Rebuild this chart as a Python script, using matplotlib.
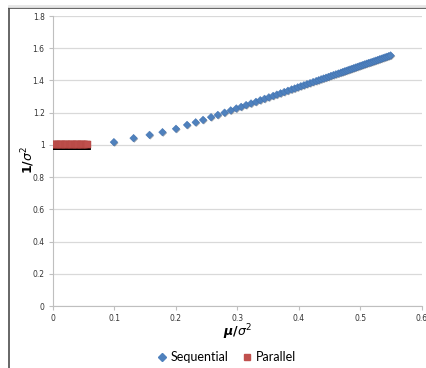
import matplotlib
matplotlib.use("Agg")
import matplotlib.pyplot as plt
import matplotlib.patheffects as pe
from matplotlib.lines import Line2D

# Sequential series (mu/sigma^2, 1/sigma^2)
seq_x = [0.099, 0.131, 0.157, 0.178, 0.200, 0.218, 0.232, 0.244, 0.257, 0.268,
         0.279, 0.289, 0.298, 0.306, 0.314, 0.322, 0.330, 0.337, 0.344, 0.351,
         0.358, 0.364, 0.370, 0.376, 0.382, 0.388, 0.393, 0.398, 0.403, 0.408,
         0.413, 0.418, 0.423, 0.428, 0.432, 0.436, 0.440, 0.444, 0.448, 0.452,
         0.456, 0.460, 0.464, 0.468, 0.471, 0.474, 0.477, 0.480, 0.483, 0.486,
         0.489, 0.492, 0.495, 0.498, 0.501, 0.504, 0.507, 0.510, 0.513, 0.516,
         0.519, 0.522, 0.525, 0.528, 0.531, 0.534, 0.537, 0.540, 0.543, 0.546,
         0.549]
seq_y = [1.017, 1.042, 1.062, 1.079, 1.100, 1.124, 1.140, 1.155, 1.172, 1.186,
         1.200, 1.214, 1.226, 1.236, 1.247, 1.257, 1.267, 1.277, 1.286, 1.295,
         1.304, 1.312, 1.320, 1.328, 1.336, 1.344, 1.350, 1.357, 1.364, 1.370,
         1.377, 1.383, 1.390, 1.396, 1.401, 1.407, 1.412, 1.417, 1.422, 1.428,
         1.433, 1.438, 1.443, 1.448, 1.452, 1.456, 1.460, 1.464, 1.468, 1.472,
         1.476, 1.480, 1.484, 1.488, 1.492, 1.496, 1.500, 1.504, 1.508, 1.511,
         1.515, 1.519, 1.523, 1.527, 1.531, 1.535, 1.539, 1.543, 1.547, 1.551,
         1.555]

# Parallel series
par_x = [0.000, 0.002, 0.004, 0.006, 0.008, 0.010, 0.012, 0.014, 0.016, 0.018,
         0.020, 0.022, 0.024, 0.026, 0.028, 0.030, 0.032, 0.034, 0.036, 0.038,
         0.040, 0.042, 0.044, 0.046, 0.048, 0.050, 0.052, 0.054, 0.056]
par_y = [1.000, 1.000, 1.000, 1.000, 1.000, 1.000, 1.000, 1.000, 1.000, 1.000,
         1.000, 1.000, 1.000, 1.000, 1.000, 1.000, 1.000, 1.000, 1.000, 1.000,
         1.000, 1.000, 1.000, 1.000, 1.000, 1.000, 1.000, 1.000, 1.000]

x_ticks = [0, 0.1, 0.2, 0.3, 0.4, 0.5, 0.6]
x_labels = ["0", "0.1", "0.2", "0.3", "0.4", "0.5", "0.6"]
y_ticks = [0, 0.2, 0.4, 0.6, 0.8, 1.0, 1.2, 1.4, 1.6, 1.8]
y_labels = ["0", "0.2", "0.4", "0.6", "0.8", "1", "1.2", "1.4", "1.6", "1.8"]

W, H = 427, 368
fig = plt.figure(figsize=(W / 100, H / 100), dpi=100)
fig.patch.set_facecolor("white")

# chart frame: only the left and top edges are visible in the screenshot
fx, fy = 9 / W, 1 - 8 / H
fig.add_artist(Line2D([fx, fx], [0, fy], transform=fig.transFigure, color="#4d4d4d", lw=1.2))
fig.add_artist(Line2D([fx, 1], [fy, fy], transform=fig.transFigure, color="#4d4d4d", lw=1.2))
fig.add_artist(Line2D([fx, 1], [fy + 2 / H, fy + 2 / H], transform=fig.transFigure,
                      color="#e6e6e6", lw=2))

ax = fig.add_axes([53 / W, 1 - 306 / H, (422 - 53) / W, (306 - 16) / H])
ax.set_xlim(0, 0.6)
ax.set_ylim(0, 1.8)

shadow = [pe.SimplePatchShadow(offset=(0.6, -0.6), alpha=0.4), pe.Normal()]
ax.scatter(seq_x, seq_y, marker="D", s=15, color="#4f81bd", edgecolors="#3d6fb0",
           linewidths=0.3, zorder=3, path_effects=shadow, label="Sequential")
ax.scatter(par_x, par_y, marker="s", s=24, color="#c0504d", edgecolors="#b0443f",
           linewidths=0.3, zorder=3,
           path_effects=[pe.SimplePatchShadow(offset=(0.4, -1.0), alpha=0.9,
                                              shadow_rgbFace="black"), pe.Normal()],
           label="Parallel")

ax.set_xticks(x_ticks)
ax.set_xticklabels(x_labels)
ax.set_yticks(y_ticks)
ax.set_yticklabels(y_labels)
ax.tick_params(axis="both", labelsize=5.5, labelcolor="#333333", color="#bfbfbf",
               length=3, width=0.8, pad=3)
ax.yaxis.grid(True, color="#d9d9d9", linewidth=0.9)
ax.set_axisbelow(True)
for side in ("top", "right"):
    ax.spines[side].set_visible(False)
for side in ("left", "bottom"):
    ax.spines[side].set_color("#bfbfbf")
    ax.spines[side].set_linewidth(0.8)

fig.text(238 / W, 1 - 332 / H, r"$\boldsymbol{\mu/\sigma^2}$", ha="center", va="center",
         fontsize=9)
fig.text(28 / W, 1 - 160 / H, r"$\boldsymbol{1/\sigma^2}$", ha="center", va="center",
         rotation=90, fontsize=9)

handles = [
    Line2D([], [], marker="D", ls="none", ms=4, color="#4f81bd"),
    Line2D([], [], marker="s", ls="none", ms=5, color="#c0504d"),
]
fig.legend(handles, ["Sequential", "Parallel"], loc="center",
           bbox_to_anchor=(226 / W, 1 - 357 / H), ncol=2, frameon=False,
           prop={"family": "Lato", "size": 9}, handletextpad=0.2, columnspacing=1.0,
           handlelength=1.0)

fig.savefig("out.png", dpi=100)
